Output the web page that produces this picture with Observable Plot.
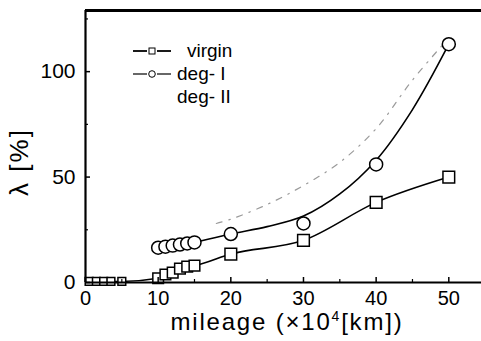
<!DOCTYPE html>
<html><head><meta charset="utf-8">
<script src="https://cdn.jsdelivr.net/npm/d3@7"></script>
<script src="https://cdn.jsdelivr.net/npm/@observablehq/plot@0.6"></script>
<style>
body{margin:0;background:#fff;font-family:"Liberation Sans",Arial,sans-serif;color:#000;}
#wrap{position:relative;width:481px;height:341px;overflow:hidden;}
.lbl{position:absolute;white-space:nowrap;line-height:1;}
#xlabel{left:287px;top:309px;transform:translateX(-50%);font-size:24px;letter-spacing:1.8px;}
#ylabel{left:19px;top:162px;transform:translate(-50%,-50%) rotate(-90deg);font-size:26px;letter-spacing:2px;}
#legend{position:absolute;left:132px;top:39px;font-size:19px;line-height:23px;}
#legend div{display:flex;align-items:center;height:23px;}
#legend svg{margin-right:5px;}
</style></head><body><div id="wrap"></div>
<script>
// data
const virginX = [0.5, 1.5, 2.5, 3.5, 5, 10, 11, 12, 13, 14, 15, 20, 30, 40, 50];
const virginY = [0.5, 0.5, 0.5, 0.5, 0.5, 2, 3.8, 4.7, 6.6, 7.5, 8, 13.5, 20, 38, 50];
const degIX = [10, 11, 12, 13, 14, 15, 20, 30, 40, 50];
const degIY = [16.5, 17, 17.5, 18, 18.5, 19, 23, 28, 56, 113];
// fitted curve through deg-I
const degIFitX = [15, 20, 25, 30, 35, 40, 45, 50];
const degIFitY = [19, 23, 26.5, 31.5, 42, 58, 82, 113];
const degIIX = [18, 20, 25, 30, 35, 40, 45, 50];
const degIIY = [28, 30, 37, 46, 57, 73, 96, 116];
const xMajor = [0, 10, 20, 30, 40, 50];
const xMinor = [5, 15, 25, 35, 45];
const yMajor = [0, 50, 100];
const yMinor = [25, 75, 125];
const xDomain = [0, 54.5];
const yDomain = [0, 129];

const virgin = virginX.map((x, i) => ({x, y: virginY[i]}));
const degI = degIX.map((x, i) => ({x, y: degIY[i]}));
const degIFit = degIFitX.map((x, i) => ({x, y: degIFitY[i]}));
const degII = degIIX.map((x, i) => ({x, y: degIIY[i]}));

const sq = {x: "x", y: "y", symbol: "square", fill: "#fff", stroke: "#000", strokeWidth: 1.5};

const plot = Plot.plot({
  width: 481, height: 341,
  marginLeft: 85, marginRight: 0, marginTop: 10, marginBottom: 59,
  x: {domain: xDomain},
  y: {domain: yDomain},
  style: {fontFamily: '"Liberation Sans", Arial, sans-serif', color: "#000", background: "#fff", overflow: "visible"},
  marks: [
    Plot.line(degII, {x: "x", y: "y", curve: "catmull-rom", stroke: "#9a9a9a", strokeWidth: 1.2, strokeDasharray: "6,7,1.5,7"}),
    Plot.line(virgin, {x: "x", y: "y", curve: "monotone-x", stroke: "#000", strokeWidth: 1.6}),
    Plot.line(degI.filter(d => d.x <= 15), {x: "x", y: "y", stroke: "#000", strokeWidth: 1.6}),
    Plot.line(degIFit, {x: "x", y: "y", curve: "catmull-rom", stroke: "#000", strokeWidth: 1.6}),
    Plot.dot(virgin.filter(d => d.x < 8), {...sq, r: 4.4}),
    Plot.dot(virgin.filter(d => d.x >= 8 && d.x < 18), {...sq, r: 6}),
    Plot.dot(virgin.filter(d => d.x >= 18), {...sq, r: 6.6}),
    Plot.dot(degI, {x: "x", y: "y", symbol: "circle", r: 6.5, fill: "#fff", stroke: "#000", strokeWidth: 1.5}),
    Plot.ruleY([yDomain[0]], {stroke: "#000", strokeWidth: 2.2}),
    Plot.ruleY([yDomain[1]], {stroke: "#000", strokeWidth: 2.8}),
    Plot.ruleX([xDomain[0]], {stroke: "#000", strokeWidth: 2.2}),
    Plot.axisX({ticks: xMajor, tickSize: -5, tickPadding: 13, tickFormat: d => String(d), fontSize: 20, label: null, strokeWidth: 1.5}),
    Plot.axisX({ticks: xMinor, tickSize: -3, tickFormat: null, text: null, label: null, strokeWidth: 1.2}),
    Plot.axisY({ticks: yMajor, tickSize: -5, tickPadding: 15, tickFormat: d => String(d), fontSize: 21, label: null, strokeWidth: 1.5}),
    Plot.axisY({ticks: yMinor, tickSize: -3, tickFormat: null, text: null, label: null, strokeWidth: 1.2})
  ]
});

const wrap = document.getElementById("wrap");
wrap.appendChild(plot);

const xl = document.createElement("div");
xl.className = "lbl"; xl.id = "xlabel";
xl.innerHTML = "mileage (&times;10<sup style=\"font-size:14px\">4</sup>[km])";
wrap.appendChild(xl);

const yl = document.createElement("div");
yl.className = "lbl"; yl.id = "ylabel";
yl.textContent = "λ [%]";
wrap.appendChild(yl);

const legendItems = [
  {name: "virgin", sym: "square"},
  {name: "deg- I", sym: "circle"},
  {name: "deg- II", sym: null}
];
const lg = document.createElement("div");
lg.id = "legend";
for (const it of legendItems) {
  const row = document.createElement("div");
  let s = "";
  if (it.sym === "square") s = '<line x1="1" x2="15" y1="6" y2="6" stroke="#000" stroke-width="1.8"/><line x1="25" x2="39" y1="6" y2="6" stroke="#000" stroke-width="1.8"/><rect x="17" y="3" width="6" height="6" fill="#fff" stroke="#000" stroke-width="1"/>';
  else if (it.sym === "circle") s = '<line x1="1" x2="15" y1="6" y2="6" stroke="#000" stroke-width="1.2"/><line x1="25" x2="39" y1="6" y2="6" stroke="#000" stroke-width="1.2"/><circle cx="20" cy="6" r="3.3" fill="#fff" stroke="#000" stroke-width="1"/>';
  row.innerHTML = `<svg width="40" height="12" style="${it.sym ? "" : "visibility:hidden"}">${s}</svg><span style="margin-left:${it.name === "virgin" ? 10 : 0}px">${it.name}</span>`;
  lg.appendChild(row);
}
wrap.appendChild(lg);
</script>
</body></html>
